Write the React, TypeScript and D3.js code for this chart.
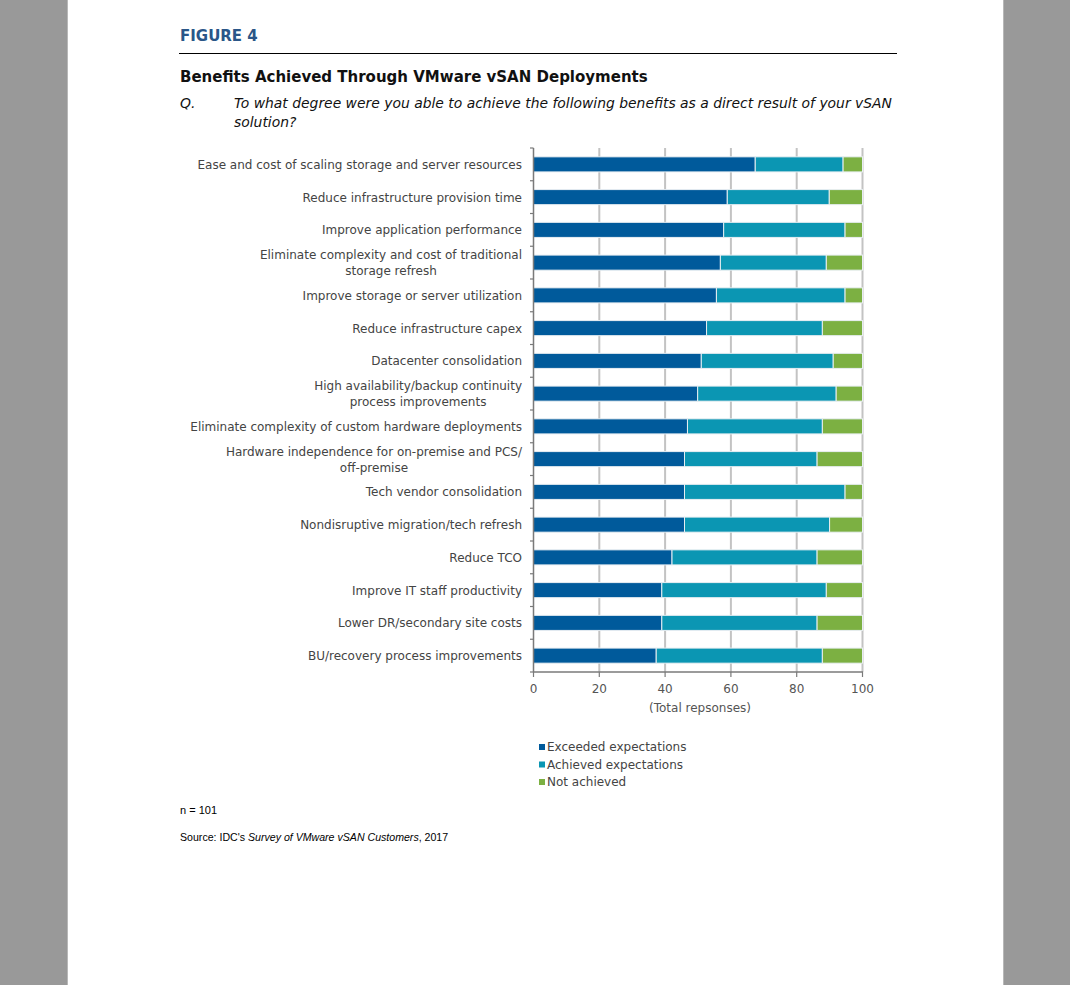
import React, { useEffect, useRef } from "react";
import * as d3 from "d3";

const categories: string[] = [
  "Ease and cost of scaling storage and server resources",
  "Reduce infrastructure provision time",
  "Improve application performance",
  "Eliminate complexity and cost of traditional\nstorage refresh",
  "Improve storage or server utilization",
  "Reduce infrastructure capex",
  "Datacenter consolidation",
  "High availability/backup continuity\nprocess improvements",
  "Eliminate complexity of custom hardware deployments",
  "Hardware independence for on-premise and PCS/\noff-premise",
  "Tech vendor consolidation",
  "Nondisruptive migration/tech refresh",
  "Reduce TCO",
  "Improve IT staff productivity",
  "Lower DR/secondary site costs",
  "BU/recovery process improvements",
];

const exceeded: number[] = [67.4, 58.9, 57.8, 56.8, 55.6, 52.6, 51.0, 49.9, 46.8, 45.9, 45.9, 45.9, 42.1, 39.0, 39.0, 37.3];
const achieved: number[] = [26.7, 31.0, 36.9, 32.2, 39.1, 35.2, 40.1, 42.1, 41.0, 40.3, 48.8, 44.1, 44.1, 50.0, 47.2, 50.5];
const notAchieved: number[] = [5.9, 10.1, 5.3, 11.0, 5.3, 12.2, 8.9, 8.0, 12.2, 13.8, 5.3, 10.0, 13.8, 11.0, 13.8, 12.2];

const seriesNames: string[] = ["Exceeded expectations", "Achieved expectations", "Not achieved"];
const seriesColors: string[] = ["#005a9b", "#0b96b3", "#7cb042"];
const xTicks: number[] = [0, 20, 40, 60, 80, 100];

const FONT = "'DejaVu Sans', Verdana, sans-serif";

export default function App() {
  const ref = useRef<SVGSVGElement | null>(null);

  useEffect(() => {
    const svg = d3.select(ref.current);
    svg.selectAll("*").remove();

    // page background
    svg.append("rect").attr("x", 0).attr("y", 0).attr("width", 1070).attr("height", 985).attr("fill", "#999999");
    svg.append("rect").attr("x", 68).attr("y", 0).attr("width", 935).attr("height", 985).attr("fill", "#ffffff");
    svg.append("line").attr("x1", 1003.5).attr("x2", 1003.5).attr("y1", 0).attr("y2", 985).attr("stroke", "#b8b8b8");
    svg.append("line").attr("x1", 67.5).attr("x2", 67.5).attr("y1", 0).attr("y2", 985).attr("stroke", "#b8b8b8");

    // header
    svg.append("text").attr("x", 180).attr("y", 41).text("FIGURE 4")
      .attr("font-family", FONT).attr("font-weight", "bold").attr("font-size", 15)
      .attr("fill", "#2a5688");
    svg.append("line").attr("x1", 179).attr("x2", 897).attr("y1", 53.5).attr("y2", 53.5).attr("stroke", "#000").attr("stroke-width", 1);
    svg.append("text").attr("x", 180).attr("y", 82).text("Benefits Achieved Through VMware vSAN Deployments")
      .attr("font-family", FONT).attr("font-weight", "bold").attr("font-size", 15).attr("fill", "#111");
    const q = svg.append("g").attr("font-family", FONT).attr("font-style", "italic").attr("font-size", 13.9).attr("fill", "#111");
    q.append("text").attr("x", 180).attr("y", 108).text("Q.");
    q.append("text").attr("x", 234).attr("y", 108).text("To what degree were you able to achieve the following benefits as a direct result of your vSAN");
    q.append("text").attr("x", 234).attr("y", 127).text("solution?");

    // chart
    const x = d3.scaleLinear().domain([0, 100]).range([533.5, 862.5]);
    const y = d3.scaleBand<number>().domain(d3.range(categories.length)).range([148, 672]).paddingInner(0.54).paddingOuter(0.27);
    const band = d3.scaleBand<number>().domain(d3.range(categories.length)).range([148, 672]);

    // grid lines
    svg.append("g").selectAll("line").data(xTicks.filter((t) => t > 0)).join("line")
      .attr("x1", (d) => x(d)).attr("x2", (d) => x(d)).attr("y1", 148).attr("y2", 672)
      .attr("stroke", "#c3c3c3").attr("stroke-width", 2);

    // bars
    const series = [exceeded, achieved, notAchieved];
    const rows = categories.map((_, i) => {
      let acc = 0;
      return series.map((s, k) => {
        const start = acc;
        acc += s[i];
        return { i, k, start, end: acc };
      });
    });
    svg.append("g").selectAll("rect").data(rows.flat()).join("rect")
      .attr("x", (d) => x(d.start)).attr("width", (d) => x(d.end) - x(d.start))
      .attr("y", (d) => y(d.i)!).attr("height", y.bandwidth())
      .attr("fill", (d) => seriesColors[d.k]).attr("stroke", "#e8eef2").attr("stroke-width", 1);

    // left axis
    const axisColor = "#7a7a7a";
    svg.append("line").attr("x1", 533.5).attr("x2", 533.5).attr("y1", 148).attr("y2", 672).attr("stroke", axisColor).attr("stroke-width", 1.5);
    svg.append("g").selectAll("line").data(d3.range(categories.length + 1)).join("line")
      .attr("x1", 530).attr("x2", 533.5)
      .attr("y1", (d) => (d < categories.length ? band(d)! : 672)).attr("y2", (d) => (d < categories.length ? band(d)! : 672))
      .attr("stroke", axisColor).attr("stroke-width", 1.2);

    // bottom axis
    svg.append("line").attr("x1", 533).attr("x2", 863).attr("y1", 672).attr("y2", 672).attr("stroke", axisColor).attr("stroke-width", 1.5);
    svg.append("g").selectAll("line").data(xTicks).join("line")
      .attr("x1", (d) => x(d)).attr("x2", (d) => x(d)).attr("y1", 672).attr("y2", 677)
      .attr("stroke", axisColor).attr("stroke-width", 1.2);
    svg.append("g").selectAll("text").data(xTicks).join("text")
      .attr("x", (d) => x(d)).attr("y", 693).attr("text-anchor", "middle").text((d) => String(d))
      .attr("font-family", FONT).attr("font-size", 12).attr("fill", "#555");
    svg.append("text").attr("x", 700).attr("y", 712).attr("text-anchor", "middle").text("(Total repsonses)")
      .attr("font-family", FONT).attr("font-size", 12).attr("fill", "#555");

    // category labels
    const lg = svg.append("g").attr("font-family", FONT).attr("font-size", 12).attr("fill", "#444");
    categories.forEach((c, i) => {
      const lines = c.split("\n");
      const cy = y(i)! + y.bandwidth() / 2;
      if (lines.length === 1) {
        lg.append("text").attr("x", 522).attr("y", cy + 4.5).attr("text-anchor", "end").text(lines[0]);
      } else {
        const first = lg.append("text").attr("x", 522).attr("y", cy - 3.5).attr("text-anchor", "end").text(lines[0]);
        const w = (first.node() as SVGTextElement).getComputedTextLength();
        lg.append("text").attr("x", 522 - w / 2).attr("y", cy + 12.5).attr("text-anchor", "middle").text(lines[1]);
      }
    });

    // legend
    const leg = svg.append("g").attr("font-family", FONT).attr("font-size", 12).attr("fill", "#444");
    seriesNames.forEach((n, k) => {
      const yy = 751 + k * 17.5;
      leg.append("rect").attr("x", 539).attr("y", yy - 7).attr("width", 6).attr("height", 6).attr("fill", seriesColors[k]);
      leg.append("text").attr("x", 547).attr("y", yy).text(n);
    });

    // footnotes
    svg.append("text").attr("x", 180).attr("y", 814).text("n = 101")
      .attr("font-family", "'Liberation Sans', Arial, sans-serif").attr("font-size", 11).attr("fill", "#000");
    const src = svg.append("text").attr("x", 180).attr("y", 841)
      .attr("font-family", "'Liberation Sans', Arial, sans-serif").attr("font-size", 10.6).attr("fill", "#000");
    src.append("tspan").text("Source: IDC's ");
    src.append("tspan").attr("font-style", "italic").text("Survey of VMware vSAN Customers");
    src.append("tspan").text(", 2017");
  }, []);

  return (
    <svg ref={ref} width={1070} height={985} style={{ position: "absolute", left: 0, top: 0, display: "block" }} />
  );
}
